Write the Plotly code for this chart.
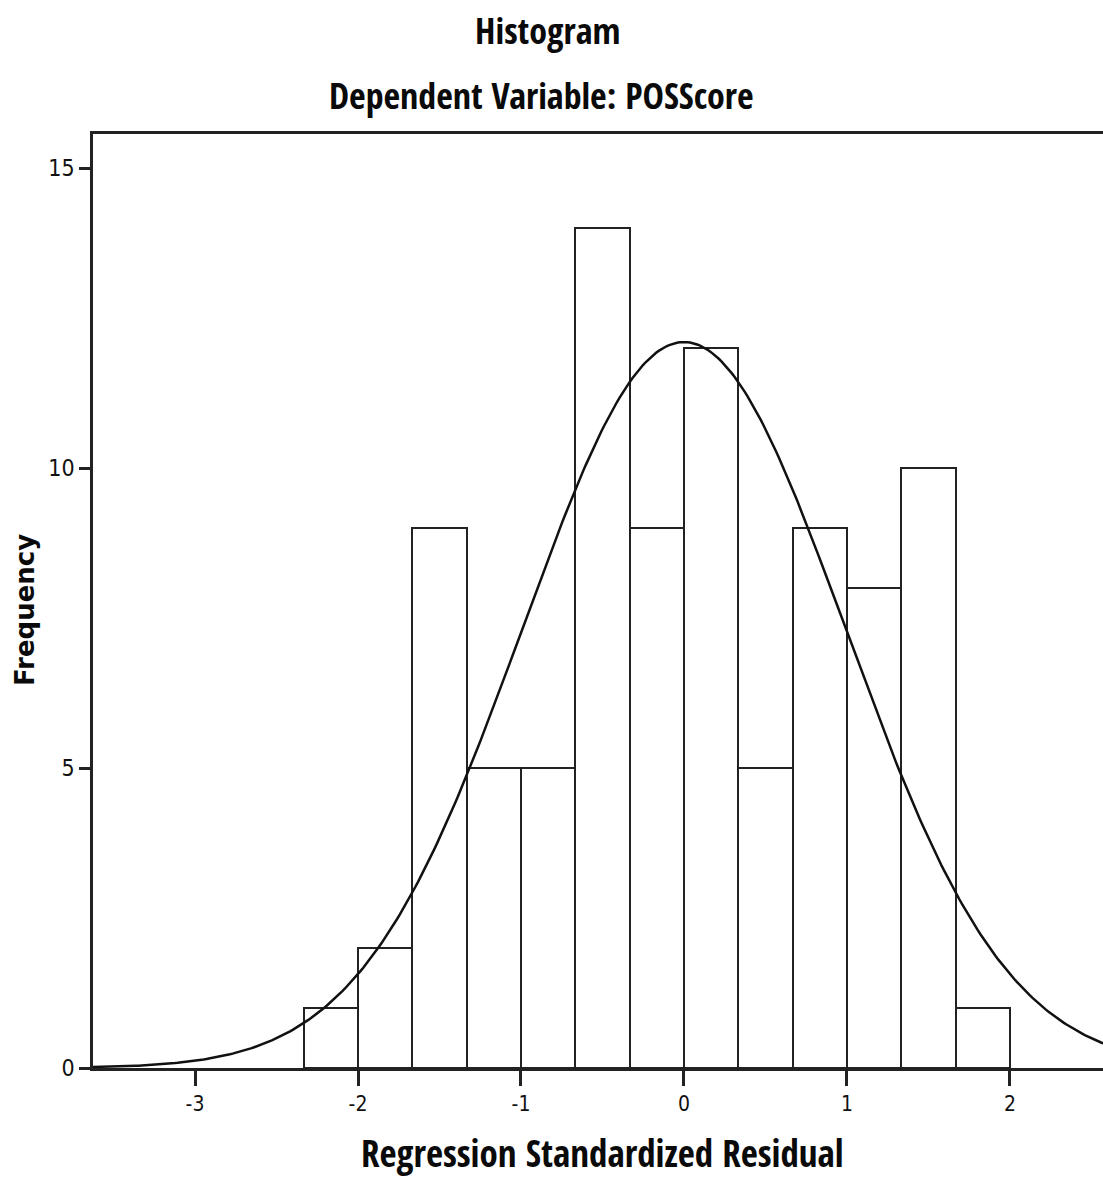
import numpy as np
import plotly.graph_objects as go

# Histogram data
bin_edges = [-2.3333, -2.0, -1.6667, -1.3333, -1.0, -0.6667, -0.3333,
             0.0, 0.3333, 0.6667, 1.0, 1.3333, 1.6667, 2.0]
counts = [1, 2, 9, 5, 5, 14, 9, 12, 5, 9, 8, 10, 1]

# Normal curve parameters (SPSS summary)
curve_mean = 0.0
curve_std = 0.989
n_obs = sum(counts)
bin_width = bin_edges[1] - bin_edges[0]

x_ticks = [-3, -2, -1, 0, 1, 2]
y_ticks = [0, 5, 10, 15]

centers = [(bin_edges[i] + bin_edges[i + 1]) / 2 for i in range(len(counts))]
widths = [bin_edges[i + 1] - bin_edges[i] for i in range(len(counts))]

xc = np.linspace(-3.7, 2.7, 400)
yc = n_obs * bin_width * np.exp(-0.5 * ((xc - curve_mean) / curve_std) ** 2) / (curve_std * np.sqrt(2 * np.pi))

fig = go.Figure()
fig.add_trace(go.Bar(x=centers, y=counts, width=widths,
                     marker=dict(color="white", line=dict(color="#222222", width=2)),
                     hoverinfo="x+y"))
fig.add_trace(go.Scatter(x=xc, y=yc, mode="lines",
                         line=dict(color="#111111", width=2.5), hoverinfo="skip"))

W, H = 1103, 1180
ML, MR, MT, MB = 93, 0, 134, 112
plot_w = W - ML - MR
plot_h = H - MT - MB

def px(xpix):
    return (xpix - ML) / plot_w

def py(ypix):
    return (H - MB - ypix) / plot_h

fig.update_layout(
    width=W, height=H,
    margin=dict(l=ML, r=MR, t=MT, b=MB),
    paper_bgcolor="white", plot_bgcolor="white",
    showlegend=False,
    bargap=0,
)

title_font = dict(family="Open Sans Condensed, DejaVu Sans Condensed, sans-serif", size=36, color="#0a0a0a")
fig.add_annotation(text="<b>Histogram</b>", x=px(547), y=py(30),
                   xref="paper", yref="paper", showarrow=False, xanchor="center", yanchor="middle",
                   font=title_font)
fig.add_annotation(text="<b>Dependent Variable: POSScore</b>", x=px(541), y=py(96),
                   xref="paper", yref="paper", showarrow=False, xanchor="center", yanchor="middle",
                   font=title_font)
fig.add_annotation(text="<b>Regression Standardized Residual</b>", x=px(602), y=py(1152),
                   xref="paper", yref="paper", showarrow=False, xanchor="center", yanchor="middle",
                   font=dict(family="Open Sans Condensed, DejaVu Sans Condensed, sans-serif", size=37, color="#0a0a0a"))
fig.add_annotation(text="<b>Frequency</b>", x=px(25), y=py(610),
                   xref="paper", yref="paper", showarrow=False, textangle=-90,
                   xanchor="center", yanchor="middle",
                   font=dict(family="DejaVu Sans, Verdana, sans-serif", size=26, color="#0a0a0a"))

fig.update_xaxes(range=[-3.626, 2.571], tickvals=x_ticks, ticktext=[str(v) for v in x_ticks],
                 showgrid=False, zeroline=False, showline=True, linecolor="#222222", linewidth=2.5,
                 mirror=True, ticks="outside", ticklen=15, tickwidth=2.5, tickcolor="#222222",
                 tickfont=dict(family="DejaVu Sans Condensed, sans-serif", size=21, color="#111111"))
fig.update_yaxes(range=[0, 15.567], tickvals=y_ticks,
                 showgrid=False, zeroline=False, showline=True, linecolor="#222222", linewidth=2.5,
                 mirror=False, ticks="outside", ticklen=11, tickwidth=2.5, tickcolor="#222222",
                 tickfont=dict(family="DejaVu Sans Condensed, sans-serif", size=23, color="#111111"))

fig.write_html("out.html", config={"displayModeBar": False},
               post_script="document.body.style.margin='0';document.body.style.overflow='hidden';")
